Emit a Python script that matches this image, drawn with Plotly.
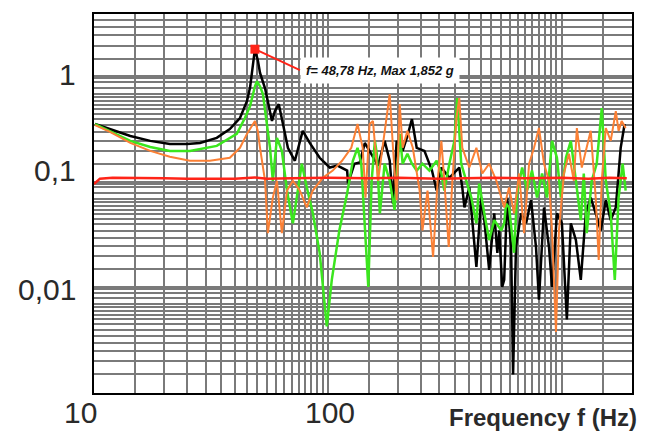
import numpy as np
import plotly.graph_objects as go

# ---------------- data ----------------
black_f = [10.1, 11.7, 14.3, 17.4, 21.1, 25.0, 28.4, 33.5, 38.1, 42.1, 45.1, 46.5, 47.7, 48.78, 50.2, 51.3,
           53.9, 56.6, 57.7, 59.4, 61.7, 64.3, 67.5, 72.3, 78.1, 83.7, 92.3, 101.9, 110, 121, 122, 130, 137,
           144, 151, 164, 175, 184, 190, 197, 209, 219, 229, 240, 259, 279, 292, 306, 331, 365, 376, 384,
           403, 423, 432, 453, 467, 490, 515, 531, 541, 557, 568, 585, 608, 620, 638, 671, 705, 740, 777,
           800, 841, 883, 910, 955, 1003, 1053, 1095, 1151, 1208, 1269, 1332, 1399, 1470, 1545, 1622,
           1705, 1789, 1860]
black_g = [0.36, 0.323, 0.277, 0.249, 0.233, 0.233, 0.238, 0.266, 0.323, 0.41, 0.594, 0.8, 1.25, 1.852, 1.45, 1.1,
           0.787, 0.48, 0.385, 0.478, 0.556, 0.36, 0.214, 0.161, 0.31, 0.238, 0.172, 0.139, 0.145, 0.13, 0.098, 0.151, 0.155,
           0.238, 0.2, 0.145, 0.249, 0.161, 0.063, 0.249, 0.2, 0.277, 0.401, 0.214, 0.2, 0.13, 0.084, 0.139, 0.111, 0.139, 0.09, 0.058,
           0.09, 0.0284, 0.0158, 0.072, 0.044, 0.0148, 0.051, 0.0215, 0.035, 0.0102, 0.0119, 0.072, 0.0244, 0.0015, 0.0244, 0.051, 0.041, 0.068, 0.0244,
           0.0077, 0.058, 0.0244, 0.0102, 0.051, 0.041, 0.005, 0.041, 0.0284, 0.0119, 0.051, 0.072, 0.051, 0.035, 0.068, 0.044,
           0.058, 0.214, 0.36]

green_f = [10.1, 11.7, 14.3, 17.4, 21.1, 25.7, 33.5, 40.8, 44.2, 46.5, 48.8, 49.8, 51.3, 52.8, 56.6, 58.2, 60.6,
           63.6, 66.9, 70.9, 74.4, 77.4, 81.3, 86.3, 92.3, 99.0, 104, 112, 121, 128, 134, 139, 149, 154, 159, 162,
           167, 175, 184, 193, 203, 209, 219, 229, 240, 254, 272, 292, 306, 315, 331, 348, 358, 372, 391, 411,
           432, 444, 467, 490, 515, 552, 568, 579, 596, 626, 645, 678, 712, 747, 785, 825, 866, 910, 955, 993,
           1043, 1095, 1151, 1208, 1244, 1281, 1345, 1413, 1485, 1545, 1622, 1688, 1753, 1824, 1879]
green_g = [0.36, 0.31, 0.249, 0.218, 0.2, 0.2, 0.223, 0.29, 0.41, 0.533, 0.822, 0.917, 0.82, 0.69, 0.214, 0.104, 0.266,
           0.2, 0.084, 0.041, 0.084, 0.151, 0.09, 0.051, 0.0215, 0.0043, 0.0119, 0.035, 0.079, 0.161, 0.214, 0.151, 0.0102, 0.104, 0.249, 0.188,
           0.051, 0.151, 0.104, 0.055, 0.29, 0.151, 0.188, 0.151, 0.13, 0.151, 0.13, 0.161, 0.122, 0.084, 0.151, 0.249, 0.634, 0.151, 0.104, 0.072,
           0.041, 0.098, 0.051, 0.0284, 0.044, 0.035, 0.041, 0.063, 0.058, 0.0215, 0.079, 0.139, 0.084, 0.13, 0.072, 0.122, 0.072, 0.249, 0.172, 0.072,
           0.172, 0.249, 0.104, 0.044, 0.122, 0.033, 0.104, 0.151, 0.51, 0.104, 0.051, 0.0119, 0.072, 0.151, 0.084]

orange_f = [10.1, 11.7, 14.3, 17.4, 21.1, 25.7, 31.3, 38.1, 42.1, 45.1, 48.8, 50.2, 51.3, 53.9, 55.4, 58.2, 60.6,
            63.6, 66.9, 70.9, 75.9, 81.3, 86.3, 95.2, 105, 115, 126, 134, 141, 145, 151, 156, 164, 175, 184, 190,
            197, 203, 209, 219, 231, 247, 254, 267, 282, 295, 306, 315, 329, 341, 355, 365, 376, 403, 432, 458,
            490, 526, 541, 568, 596, 626, 658, 691, 726, 762, 800, 841, 883, 910, 946, 974, 1023, 1074, 1128,
            1162, 1220, 1281, 1332, 1399, 1441, 1485, 1545, 1622, 1705, 1753, 1806, 1879]
orange_g = [0.352, 0.303, 0.238, 0.2, 0.176, 0.161, 0.161, 0.172, 0.214, 0.29, 0.385, 0.31, 0.214, 0.104, 0.033, 0.072, 0.104,
            0.033, 0.084, 0.104, 0.084, 0.058, 0.084, 0.111, 0.13, 0.161, 0.214, 0.36, 0.214, 0.072, 0.36, 0.385, 0.104, 0.31, 0.691, 0.214,
            0.068, 0.556, 0.214, 0.31, 0.214, 0.084, 0.035, 0.084, 0.0196, 0.104, 0.249, 0.104, 0.0244, 0.104, 0.41, 0.634, 0.214, 0.139, 0.214, 0.122,
            0.151, 0.104, 0.084, 0.058, 0.09, 0.051, 0.122, 0.033, 0.151, 0.214, 0.33, 0.151, 0.104, 0.035, 0.0038, 0.035, 0.122, 0.188, 0.104,
            0.33, 0.139, 0.214, 0.31, 0.072, 0.0184, 0.104, 0.33, 0.249, 0.478, 0.31, 0.385, 0.33]

red_f = [10, 10.6, 12, 15, 20, 25, 30, 40, 48.8, 55, 70, 100, 150, 200, 300, 400, 500, 700, 1000, 1300, 1600, 1900]
red_g = [0.097, 0.109, 0.111, 0.111, 0.110, 0.109, 0.109, 0.109, 0.112, 0.109, 0.110, 0.111, 0.110, 0.111,
         0.109, 0.110, 0.111, 0.110, 0.111, 0.109, 0.111, 0.110]

peak_f = 48.78
peak_g = 1.852
peak_text = "f= 48,78 Hz, Max 1,852 g"

x_tick_vals = [10, 100]
x_tick_text = ["10", "100"]
y_tick_vals = [0.01, 0.1, 1]
y_tick_text = ["0,01", "0,1", "1"]
x_title = "Frequency f (Hz)"

# grid definitions
x_major_grid = [10, 100, 1000]
x_minor_grid = list(range(15, 100, 5)) + list(range(150, 1000, 50)) + [1500]
y_major_grid = [0.001, 0.01, 0.1, 1]
y_mults = [1.5, 2, 2.5, 3, 3.5, 4, 4.5, 5, 5.5, 6, 6.5, 7, 8, 9]
y_minor_grid = [d * m for d in y_major_grid for m in y_mults if d * m < 4]

# ---------------- figure ----------------
fig = go.Figure()
fig.add_trace(go.Scatter(x=black_f, y=black_g, mode="lines", line=dict(color="#000000", width=2.5)))
fig.add_trace(go.Scatter(x=green_f, y=green_g, mode="lines", line=dict(color="#3be61e", width=2.5)))
fig.add_trace(go.Scatter(x=orange_f, y=orange_g, mode="lines", line=dict(color="#fb8035", width=2)))
fig.add_trace(go.Scatter(x=red_f, y=red_g, mode="lines", line=dict(color="#ff2418", width=2.5)))
fig.add_trace(go.Scatter(x=[peak_f], y=[peak_g], mode="markers",
                         marker=dict(symbol="square", size=9, color="#ff2418")))

grid_col = "#7a7a7a"
fig.update_xaxes(type="log", range=[1, np.log10(2000)], tickvals=x_major_grid, showticklabels=False,
                 showgrid=True, gridcolor=grid_col, gridwidth=1.5, ticks="",
                 minor=dict(tickmode="array", tickvals=x_minor_grid, showgrid=True,
                            gridcolor=grid_col, gridwidth=1.5, ticks=""),
                 showline=True, mirror=True, linecolor="#000000", linewidth=2, zeroline=False)
fig.update_yaxes(type="log", range=[-3, np.log10(4.0)], tickvals=y_major_grid, showticklabels=False,
                 showgrid=True, gridcolor=grid_col, gridwidth=4, ticks="",
                 minor=dict(tickmode="array", tickvals=y_minor_grid, showgrid=True,
                            gridcolor=grid_col, gridwidth=1.5, ticks=""),
                 showline=True, mirror=True, linecolor="#000000", linewidth=2, zeroline=False)

label_font = dict(family="Liberation Sans, Arial, sans-serif", size=30, color="#2a2a2a")
x_label_shift = [-14, 2]
for v, t, dx in zip(x_tick_vals, x_tick_text, x_label_shift):
    fig.add_annotation(x=np.log10(v), xref="x", y=0, yref="paper", text=t, showarrow=False,
                       xanchor="center", yanchor="middle", xshift=dx, yshift=-19, font=label_font)
y_label_shift = [-2, 12, 3]
for v, t, dy in zip(y_tick_vals, y_tick_text, y_label_shift):
    fig.add_annotation(x=0, xref="paper", y=np.log10(v), yref="y", text=t, showarrow=False,
                       xanchor="right", yanchor="middle", xshift=-16, yshift=dy, font=label_font)

fig.add_annotation(x=1, xref="paper", y=0, yref="paper", text="<b>" + x_title + "</b>", showarrow=False,
                   xanchor="right", yanchor="middle", xshift=7, yshift=-24,
                   font=dict(family="Liberation Sans, Arial, sans-serif", size=24, color="#2a2a2a"))

fig.add_annotation(x=np.log10(peak_f), y=np.log10(peak_g), xref="x", yref="y",
                   text="<b><i>" + peak_text + "</i></b>", showarrow=True, arrowhead=0,
                   arrowcolor="#ff2418", arrowwidth=2, ax=45, ay=21, xanchor="left", yanchor="middle",
                   bgcolor="#ffffff", borderpad=5, standoff=0,
                   font=dict(family="Liberation Sans, Arial, sans-serif", size=13, color="#111111"))

# page body has an 8 px default margin, so the figure is reduced by that amount
fig.update_layout(width=646, height=427, margin=dict(l=86, r=22, t=4, b=42),
                  paper_bgcolor="#ffffff", plot_bgcolor="#ffffff", showlegend=False)

fig.write_html("out.html")
